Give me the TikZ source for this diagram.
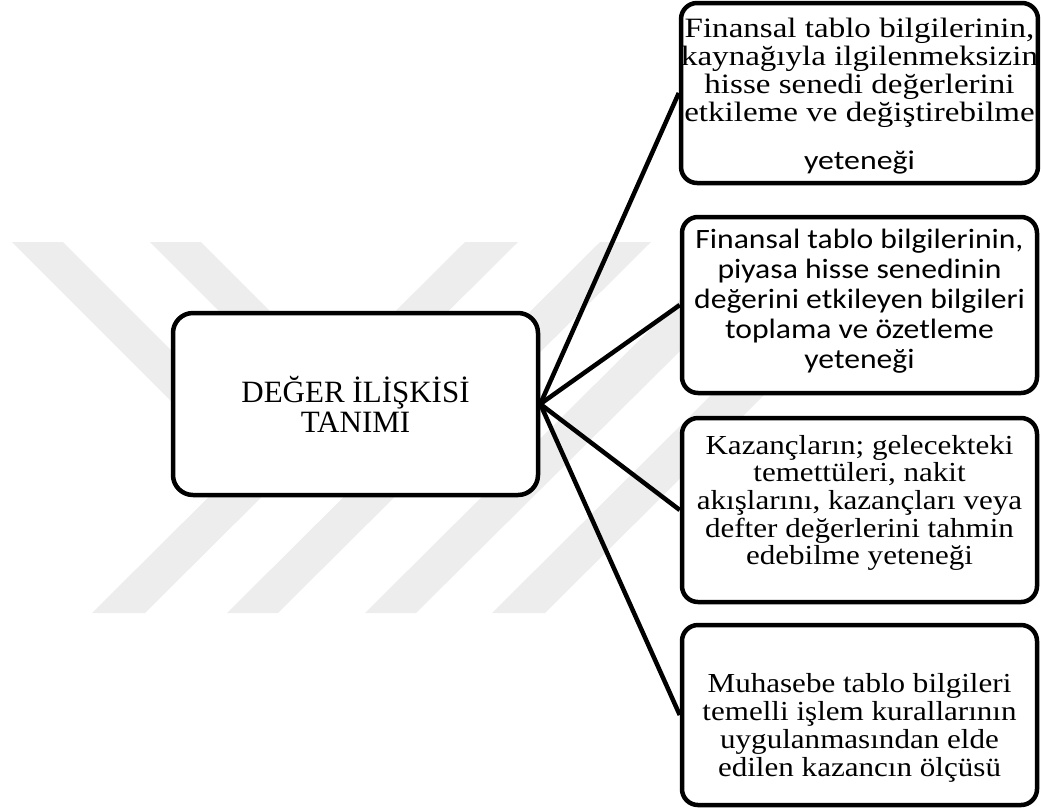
\documentclass[tikz,border=0pt]{standalone}
\usepackage{fontspec}
\usepackage{graphicx}
\setmainfont{Liberation Serif}
\newfontfamily\calibrifont{Carlito}
\definecolor{wmgray}{RGB}{237,237,237}
% widened multi-line text block: #1 horizontal stretch, #2 vertical shift, #3 lines
\newcommand{\stretchtext}[3]{\raisebox{#2}[\height][\depth]{\scalebox{#1}[1]{\begin{tabular}{@{}c@{}}#3\end{tabular}}}}
\begin{document}
\begin{tikzpicture}[x=1pt,y=-1pt,
  leftbox/.style={draw=black, line width=4.5pt, rounded corners=20pt, fill=white,
    minimum width=365pt, minimum height=182pt, inner sep=0pt, align=center},
  rightbox/.style={draw=black, line width=4.5pt, rounded corners=16pt, fill=white,
    minimum width=355pt, inner sep=0pt},
  link/.style={draw=black, line width=4.5pt},
  band/.style={fill=wmgray, draw=none}]
\useasboundingbox (0,0) rectangle (1041,807);

% background mark: slanted light bands
\begin{scope}
  \clip (0,242) rectangle (1041,613);
  \fill[band] (12,242) -- (63,242) -- (291,470) -- (240,470) -- cycle;
  \fill[band] (150,242) -- (201,242) -- (421,462) -- (370,462) -- cycle;
  \fill[band] (465,242) -- (518,242) -- (145,613) -- (92,613) -- cycle;
  \fill[band] (600,242) -- (651,242) -- (278,613) -- (227,613) -- cycle;
  \fill[band] (738,242) -- (790,242) -- (416,613) -- (365,613) -- cycle;
  \fill[band] (865,242) -- (918,242) -- (545,613) -- (492,613) -- cycle;
\end{scope}

% central concept
\node[leftbox, font=\fontsize{31}{30}\selectfont] (def) at (355.5,404) {DEĞER İLİŞKİSİ\\TANIMI};

% definitions
\node[rightbox, minimum height=180pt, font=\fontsize{28}{28}\selectfont] (r1) at (859.5,93)
  {\stretchtext{1.18}{-5pt}{Finansal tablo bilgilerinin,\\ kaynağıyla ilgilenmeksizin\\ hisse senedi değerlerini\\ etkileme ve değiştirebilme\\[20pt] {\calibrifont\fontsize{27}{28}\selectfont yeteneği}}};
\node[rightbox, minimum height=176pt, font=\calibrifont\fontsize{28}{30}\selectfont] (r2) at (859.5,305)
  {\stretchtext{1.13}{3pt}{Finansal tablo bilgilerinin,\\ piyasa hisse senedinin\\ değerini etkileyen bilgileri\\ toplama ve özetleme\\ yeteneği}};
\node[rightbox, minimum height=184pt, font=\fontsize{27.5}{27.5}\selectfont] (r3) at (859.5,510)
  {\stretchtext{1.13}{6pt}{Kazançların; gelecekteki\\ temettüleri, nakit\\ akışlarını, kazançları veya\\ defter değerlerini tahmin\\ edebilme yeteneği}};
\node[rightbox, minimum height=180pt, font=\fontsize{27.5}{28}\selectfont] (r4) at (859.5,715)
  {\stretchtext{1.13}{-14pt}{Muhasebe tablo bilgileri\\ temelli işlem kurallarının\\ uygulanmasından elde\\ edilen kazancın ölçüsü}};

% connectors
\draw[link] (def.east) -- (r1.west);
\draw[link] (def.east) -- (r2.west);
\draw[link] (def.east) -- (r3.west);
\draw[link] (def.east) -- (r4.west);
\end{tikzpicture}
\end{document}
